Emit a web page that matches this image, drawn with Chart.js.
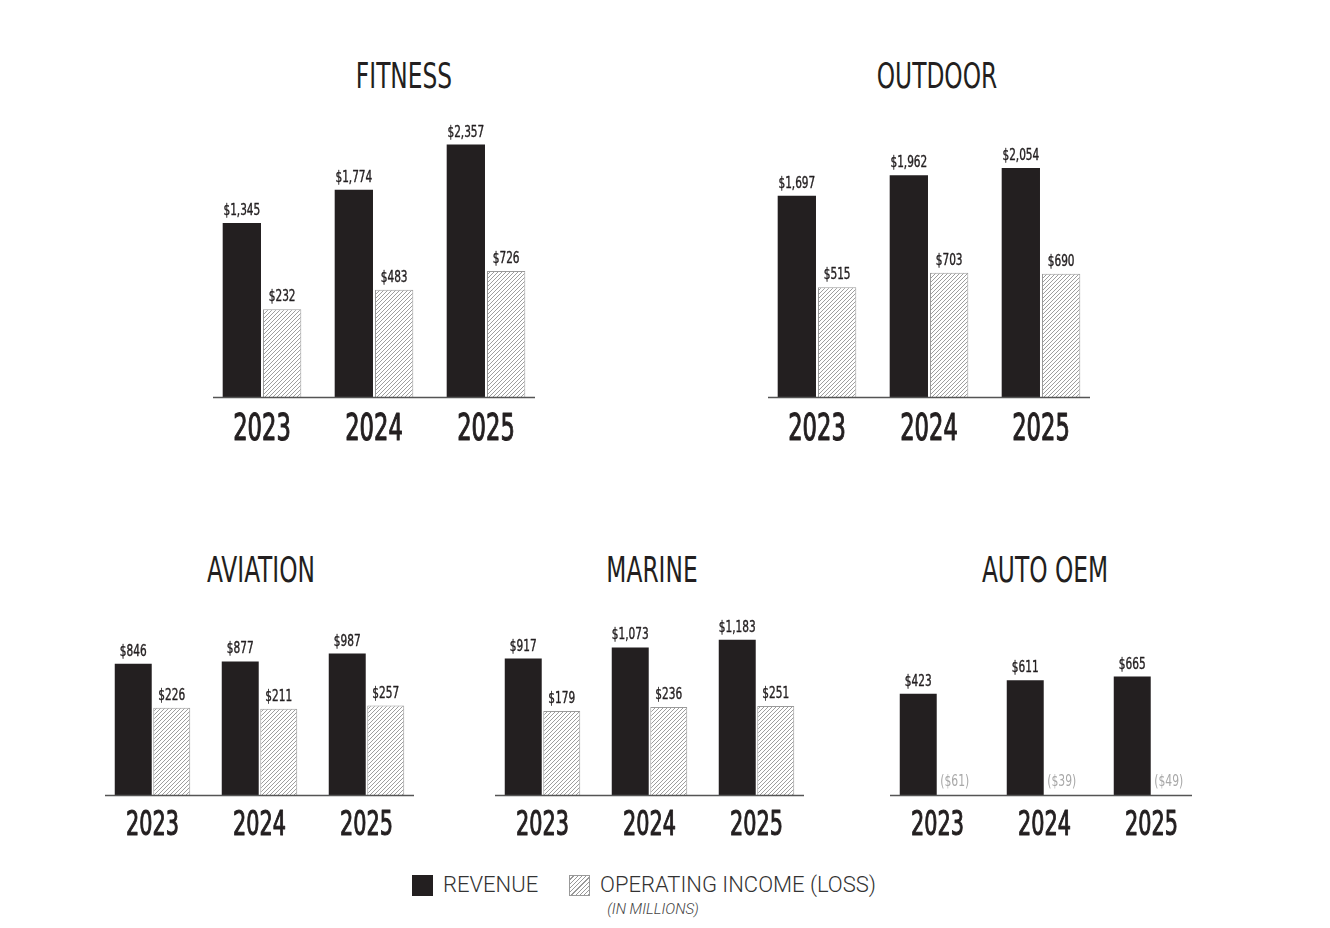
<!DOCTYPE html>
<html>
<head>
<meta charset="utf-8">
<script src="https://cdn.jsdelivr.net/npm/chart.js@4.4.0/dist/chart.umd.min.js"></script>
<style>
body{margin:0;background:#fff;width:1330px;height:928px;position:relative;overflow:hidden;color:#231f20;
  font-family:'DejaVu Sans Condensed',sans-serif}
canvas{position:absolute}
.title{position:absolute;font-size:36px;line-height:1;white-space:nowrap;transform:translateX(-50%) scaleX(0.72)}
.sw{position:absolute;width:21px;height:21px;box-sizing:border-box}
.lt{position:absolute;top:874px;font-family:Roboto,sans-serif;font-weight:300;font-size:22px;line-height:1;color:#333;white-space:nowrap}
.note{position:absolute;top:902px;left:653px;transform:translateX(-50%);font-family:Roboto,sans-serif;font-weight:300;font-style:italic;font-size:15px;line-height:1;color:#444;white-space:nowrap}
</style>
</head>
<body>
<div class="title" style="left:404px;top:58px">FITNESS</div>
<div class="title" style="left:937px;top:58px">OUTDOOR</div>
<div class="title" style="left:261px;top:552px">AVIATION</div>
<div class="title" style="left:652px;top:552px">MARINE</div>
<div class="title" style="left:1045px;top:552px">AUTO OEM</div>

<canvas id="fitness"></canvas>
<canvas id="outdoor"></canvas>
<canvas id="aviation"></canvas>
<canvas id="marine"></canvas>
<canvas id="auto"></canvas>

<span class="sw" style="left:412px;top:875px;background:#231f20"></span>
<span class="lt" style="left:443px">REVENUE</span>
<span class="sw" style="left:569px;top:875px;border:1px solid #999;background:repeating-linear-gradient(135deg,#fff 0 2px,#999 2px 3px)"></span>
<span class="lt" style="left:600px">OPERATING INCOME (LOSS)</span>
<div class="note">(IN MILLIONS)</div>

<script>
const years = ['2023', '2024', '2025'];

const fitnessRevenue = [1345, 1774, 2357];
const fitnessIncome = [232, 483, 726];
const outdoorRevenue = [1697, 1962, 2054];
const outdoorIncome = [515, 703, 690];
const aviationRevenue = [846, 877, 987];
const aviationIncome = [226, 211, 257];
const marineRevenue = [917, 1073, 1183];
const marineIncome = [179, 236, 251];
const autoRevenue = [423, 611, 665];
const autoIncome = [-61, -39, -49];

const FONT = '"DejaVu Sans Condensed", sans-serif';
const INK = '#231f20';

function makeHatch() {
	const c = document.createElement('canvas');
	c.width = 4; c.height = 4;
	const g = c.getContext('2d');
	g.fillStyle = '#fff';
	g.fillRect(0, 0, 4, 4);
	g.strokeStyle = '#939393';
	g.lineWidth = 0.9;
	g.beginPath();
	g.moveTo(0, 4); g.lineTo(4, 0);
	g.moveTo(-1, 1); g.lineTo(1, -1);
	g.moveTo(3, 5); g.lineTo(5, 3);
	g.stroke();
	return g.createPattern(c, 'repeat');
}
const hatch = makeHatch();

// squeezed text, the original uses a tall condensed face
function narrowText(ctx, text, x, y, sx, weight) {
	ctx.save();
	ctx.translate(x, y);
	ctx.scale(sx, 1);
	ctx.fillText(text, 0, 0);
	if (weight) {
		ctx.lineWidth = weight;
		ctx.lineJoin = 'round';
		ctx.strokeStyle = ctx.fillStyle;
		ctx.strokeText(text, 0, 0);
	}
	ctx.restore();
}

// value labels over bars, losses greyed at the base, years under the axis
const labelsPlugin = {
	id: 'labelsPlugin',
	afterDatasetsDraw(chart, args, opts) {
		const ctx = chart.ctx;
		const area = chart.chartArea;
		const xs = chart.scales.x;
		ctx.save();
		ctx.textAlign = 'center';
		ctx.textBaseline = 'alphabetic';

		ctx.strokeStyle = '#555';
		ctx.lineWidth = 1.5;
		ctx.beginPath();
		ctx.moveTo(area.left + opts.inset, area.bottom + 0.5);
		ctx.lineTo(area.right - opts.insetRight, area.bottom + 0.5);
		ctx.stroke();

		ctx.font = '15px ' + FONT;
		chart.data.datasets.forEach((ds, i) => {
			chart.getDatasetMeta(i).data.forEach((bar, j) => {
				const v = ds.data[j];
				if (v < 0) {
					ctx.fillStyle = '#a8a8a8';
					narrowText(ctx, '($' + Math.abs(v) + ')', bar.x - 2, area.bottom - 9, 0.8, 0);
				} else {
					ctx.fillStyle = INK;
					narrowText(ctx, '$' + v.toLocaleString('en-US'), bar.x, bar.y - 8, 0.78, 0.4);
				}
			});
		});

		ctx.fillStyle = INK;
		ctx.font = opts.yearSize + 'px ' + FONT;
		chart.data.labels.forEach((lab, i) => {
			narrowText(ctx, lab, xs.getPixelForTick(i), area.bottom + opts.yearDrop, 0.68, 1.1);
		});
		ctx.restore();
	}
};

function createChart(id, revenue, income, box) {
	const el = document.getElementById(id);
	el.width = box.w; el.height = box.h;
	el.style.left = box.x + 'px';
	el.style.top = box.y + 'px';
	return new Chart(el, {
		type: 'bar',
		data: {
			labels: years,
			datasets: [{
				label: 'Revenue',
				data: revenue,
				base: box.min,
				backgroundColor: INK,
				borderWidth: 0,
				categoryPercentage: box.cat,
				barPercentage: box.bar
			}, {
				label: 'Operating Income (Loss)',
				data: income,
				base: box.min,
				backgroundColor: (c) => c.raw < 0 ? 'rgba(0,0,0,0)' : hatch,
				borderColor: (c) => c.raw < 0 ? 'rgba(0,0,0,0)' : '#9a9a9a',
				borderWidth: 1,
				categoryPercentage: box.cat,
				barPercentage: box.bar
			}]
		},
		options: {
			responsive: false,
			animation: false,
			layout: {padding: {top: box.pt, left: 0, right: 0, bottom: box.pb}},
			plugins: {
				legend: {display: false},
				tooltip: {enabled: false},
				labelsPlugin: {inset: box.inset, insetRight: box.insetRight || box.inset,
					yearSize: box.yearSize, yearDrop: box.yearDrop}
			},
			scales: {
				x: {display: false},
				y: {display: false, min: box.min, max: box.max}
			}
		},
		plugins: [labelsPlugin]
	});
}

const topRow = {y: 100, w: 336, h: 352, pt: 18, pb: 55, min: -900, max: 2700,
	cat: 0.72, bar: 0.95, inset: 7, yearSize: 37, yearDrop: 43};
const lowRow = {y: 590, w: 321, h: 260, pt: 20, pb: 55, min: -1000, max: 1600,
	cat: 0.72, bar: 0.96, inset: 6, yearSize: 34, yearDrop: 40};

createChart('fitness', fitnessRevenue, fitnessIncome, Object.assign({x: 206}, topRow));
createChart('outdoor', outdoorRevenue, outdoorIncome, Object.assign({x: 761}, topRow));
createChart('aviation', aviationRevenue, aviationIncome, Object.assign({x: 99}, lowRow));
createChart('marine', marineRevenue, marineIncome, Object.assign({x: 489}, lowRow));
createChart('auto', autoRevenue, autoIncome, Object.assign({x: 884, insetRight: 13}, lowRow));
</script>
</body>
</html>
